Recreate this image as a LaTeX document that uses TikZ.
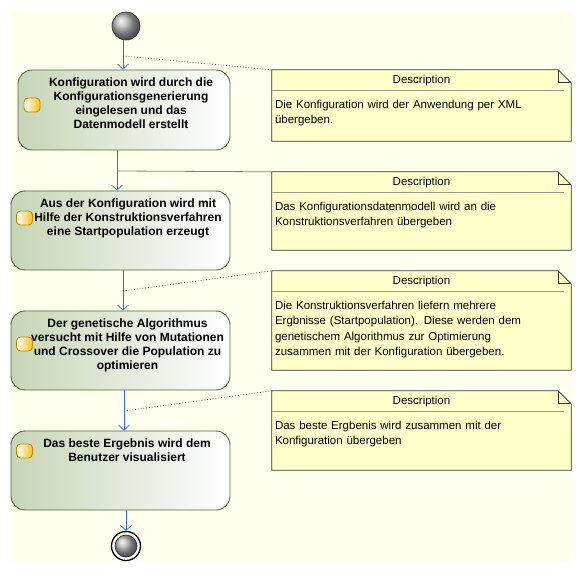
\documentclass[tikz,border=0pt]{standalone}
\usepackage{fontspec}
\setmainfont{Liberation Sans}
\usetikzlibrary{arrows.meta,shapes.misc,calc}

\definecolor{canvas}{HTML}{FFFFEE}
\definecolor{notefill}{HTML}{FFFFCA}
\definecolor{noteline}{HTML}{333333}
\definecolor{sepgrey}{HTML}{9A9A8A}
\definecolor{actleft}{HTML}{C6D5B6}
\definecolor{actborder}{HTML}{4F6A3C}
\definecolor{flowblue}{HTML}{3366FF}
\definecolor{icongold}{HTML}{FFC21A}
\definecolor{iconedge}{HTML}{C08A00}
\definecolor{linkgrey}{HTML}{606060}

\tikzset{
  activity/.style={rectangle, draw=actborder, line width=0.9pt, rounded corners=14pt,
    left color=actleft, right color=white, inner sep=0pt},
  acttext/.style={anchor=north, align=center, inner sep=0pt,
    font=\bfseries\fontsize{12}{14}\selectfont},
  actionicon/.style={rectangle, rounded corners=4pt, draw=iconedge, line width=0.9pt,
    left color=white, right color=icongold, minimum width=16pt,
    minimum height=14pt, inner sep=0pt},
  sphere/.style={circle, shading=ball, ball color=gray!60!white, draw=black!85,
    line width=0.6pt, inner sep=0pt},
  flow/.style={draw=flowblue, line width=0.8pt,
    -{Straight Barb[length=5pt,width=11pt,line width=0.7pt]}},
  notelink/.style={draw=linkgrey, line width=0.8pt, dotted},
  notelinksolid/.style={draw=linkgrey!80, line width=0.8pt},
  notebox/.style={rectangle, inner sep=0pt, minimum width=299pt},
  notehead/.style={font=\fontsize{11.5}{14}\selectfont, inner sep=0pt},
  notebody/.style={anchor=north west, align=left, inner sep=0pt, text width=290pt,
    font=\fontsize{11.5}{15.5}\selectfont},
}

\begin{document}
\begin{tikzpicture}[x=1pt, y=-1pt]
\useasboundingbox (0,0) rectangle (581,572);
\fill[canvas] (10,10) rectangle (572,562);

% start and end states
\node[sphere, minimum size=28pt] (start) at (126,26) {};
\node[circle, draw=black, line width=1.3pt, fill=white, minimum size=29pt, inner sep=0pt] (stop) at (126,546) {};
\node[sphere, minimum size=22pt] (stopcore) at (stop) {};

% activities
\node[activity, minimum width=212pt, minimum height=80pt] (a1) at (124,110) {};
\node[activity, minimum width=219pt, minimum height=79pt] (a2) at (120.5,230.5) {};
\node[activity, minimum width=219pt, minimum height=79pt] (a3) at (120.5,350.5) {};
\node[activity, minimum width=219pt, minimum height=79pt] (a4) at (120.5,470.5) {};

\node[acttext] (t1) at (131,78) {Konfiguration wird durch die\\Konfigurationsgenerierung\\eingelesen und das\\Datenmodell erstellt};
\node[acttext] (t2) at (128,199) {Aus der Konfiguration wird mit\\Hilfe der Konstruktionsverfahren\\eine Startpopulation erzeugt};
\node[acttext] (t3) at (127.5,319) {Der genetische Algorithmus\\versucht mit Hilfe von Mutationen\\und Crossover die Population zu\\optimieren};
\node[acttext] (t4) at (127,439) {Das beste Ergebnis wird dem\\Benutzer visualisiert};

\node[actionicon] (i1) at (32,105) {};
\node[actionicon] (i2) at (24.5,218) {};
\node[actionicon] (i3) at (24.5,344) {};
\node[actionicon] (i4) at (24.5,451) {};

% control flow
\coordinate (f1) at (123,0);
\coordinate (f2) at (117,0);
\coordinate (f3) at (123,0);
\coordinate (f4) at (124,0);
\coordinate (f5) at (126,0);
\draw[flow] (start.south -| f1) -- (a1.north -| f1);
\draw[flow] (a1.south -| f2) -- (a2.north -| f2);
\draw[flow] (a2.south -| f3) -- (a3.north -| f3);
\draw[flow] (a3.south -| f4) -- (a4.north -| f4);
\draw[flow] (a4.south -| f5) -- (stop.north);

% notes
\node[notebox, minimum height=71pt] (n1) at (421.5,105.5) {};
\node[notebox, minimum height=78pt] (n2) at (421.5,211) {};
\node[notebox, minimum height=99pt] (n3) at (421.5,320.5) {};
\node[notebox, minimum height=79pt] (n4) at (421.5,430.5) {};

\foreach \n in {n1,n2,n3,n4}{
  \filldraw[fill=notefill, draw=noteline, line width=0.8pt, line join=miter]
    (\n.north west) -- ($(\n.north east)+(-13,0)$) -- ($(\n.north east)+(0,13)$)
    -- (\n.south east) -- (\n.south west) -- cycle;
  \draw[noteline, line width=0.8pt] ($(\n.north east)+(-13,0)$) |- ($(\n.north east)+(0,13)$);
  \draw[sepgrey, line width=0.8pt] ($(\n.north west)+(0,21)$) -- ($(\n.north east)+(-7,21)$);
  \node[notehead] (\n h) at ($(\n.north)+(0,10.5)$) {Description};
}

\node[notebody] (b1) at ($(n1.north west)+(3,30)$) {Die Konfiguration wird der Anwendung per XML\\übergeben.};
\node[notebody] (b2) at ($(n2.north west)+(3,30)$) {Das Konfigurationsdatenmodell wird an die\\Konstruktionsverfahren übergeben};
\node[notebody] (b3) at ($(n3.north west)+(3,30)$) {Die Konstruktionsverfahren liefern mehrere\\Ergbnisse (Startpopulation). Diese werden dem\\genetischem Algorithmus zur Optimierung\\zusammen mit der Konfiguration übergeben.};
\node[notebody] (b4) at ($(n4.north west)+(3,30)$) {Das beste Ergbenis wird zusammen mit der\\Konfiguration übergeben};

% note anchors on the flows
\coordinate (j1) at (123,56);
\coordinate (j2) at (117,171);
\coordinate (j3) at (123,291);
\coordinate (j4) at (124,411);
\draw[notelink] (j1) -- (n1.north west);
\draw[notelinksolid] (j2) -- (n2.north west);
\draw[notelink] (j3) -- (n3.north west);
\draw[notelink] (j4) -- (n4.north west);
\end{tikzpicture}
\end{document}
